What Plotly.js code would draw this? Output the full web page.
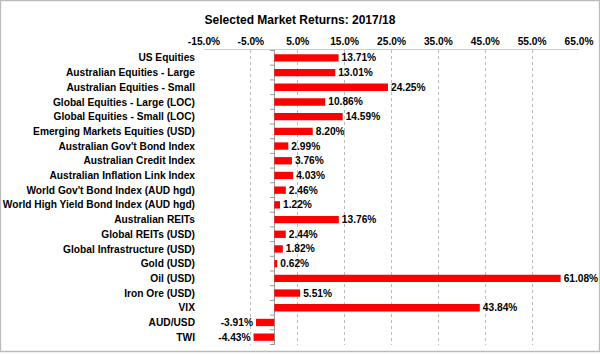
<!DOCTYPE html>
<html><head><meta charset="utf-8">
<script src="https://cdn.plot.ly/plotly-3.0.1.min.js"></script>
<style>html,body{margin:0;padding:0;background:#fff;}#chart{width:600px;height:354px;}</style>
</head><body><div id="chart"></div>
<script>
const categories = ["US Equities","Australian Equities - Large","Australian Equities - Small","Global Equities - Large (LOC)","Global Equities - Small (LOC)","Emerging Markets Equities (USD)","Australian Gov't Bond Index","Australian Credit Index","Australian Inflation Link Index","World Gov't Bond Index (AUD hgd)","World High Yield Bond Index (AUD hgd)","Australian REITs","Global REITs (USD)","Global Infrastructure (USD)","Gold (USD)","Oil (USD)","Iron Ore (USD)","VIX","AUD/USD","TWI"];
const returns = [13.71,13.01,24.25,10.86,14.59,8.20,2.99,3.76,4.03,2.46,1.22,13.76,2.44,1.82,0.62,61.08,5.51,43.84,-3.91,-4.43];
const tickVals = [-15,-5,5,15,25,35,45,55,65];

const FAM = "Liberation Sans, Arial, sans-serif";
const FS = 10.2;
const boldFont = {family:FAM, size:FS, color:"#000", weight:"bold"};
const tickShapes = [];
for (let i = 0; i <= categories.length; i++) {
  tickShapes.push({type:"line", xref:"x", yref:"y", x0:-0.9, x1:0, y0:i-0.5, y1:i-0.5, line:{color:"#999", width:1}});
}
tickShapes.push({type:"rect", xref:"paper", yref:"paper", x0:-0.543, x1:1.055, y0:-0.022, y1:1.168, line:{color:"#bbb", width:1.5}});

Plotly.newPlot("chart", [{
  type:"bar", orientation:"h", y:categories, x:returns,
  marker:{color:"#FF0000"}, width:0.5,
  text:returns.map(v=>v.toFixed(2)+"%"), textposition:"outside", constraintext:"none",
  textfont:boldFont, cliponaxis:false, hoverinfo:"none"
}], {
  width:600, height:354, paper_bgcolor:"#fff", plot_bgcolor:"#fff",
  margin:{l:204, r:21, t:50, b:9},
  font:{family:FAM, size:FS, color:"#000"}, showlegend:false,
  title:{text:"<b>Selected Market Returns: 2017/18</b>", x:0.5, xanchor:"center", y:0.955, font:{family:FAM, size:12, color:"#000"}},
  xaxis:{side:"top", range:[-15,65], tickvals:tickVals, ticktext:tickVals.map(v=>v.toFixed(1)+"%"),
    showgrid:true, gridcolor:"#bbb", griddash:"dot", gridwidth:1,
    zeroline:true, zerolinecolor:"#999", zerolinewidth:1,
    showline:true, linecolor:"#ccc", ticks:"",
    tickfont:boldFont, fixedrange:true},
  yaxis:{autorange:"reversed", showgrid:false, zeroline:false, showline:false, ticks:"",
    ticklabelstandoff:8, tickfont:boldFont, fixedrange:true},
  shapes:tickShapes
}, {staticPlot:true, displayModeBar:false});
</script></body></html>
